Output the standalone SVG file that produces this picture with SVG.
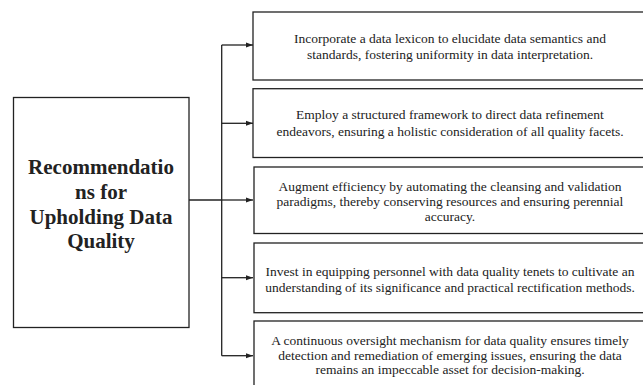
<svg xmlns="http://www.w3.org/2000/svg" width="643" height="385" viewBox="0 0 643 385">
<style>
.box{fill:#fff;stroke:#222;stroke-width:1.3}
.t{font-family:"Liberation Serif","Times New Roman",serif;font-size:13.5px;fill:#222;text-anchor:middle}
.h{font-family:"Liberation Serif","Times New Roman",serif;font-size:21px;font-weight:bold;fill:#222;text-anchor:middle}
.c{fill:none;stroke:#222;stroke-width:1.3}
</style>
<defs>
<marker id="a" viewBox="0 0 10 10" refX="10" refY="5" markerWidth="7.5" markerHeight="7.5" orient="auto" markerUnits="userSpaceOnUse">
<path d="M0,1.5 L10,5 L0,8.5 Z" fill="#222"/>
</marker>
</defs>
<rect width="643" height="385" fill="#fff"/>
<g id="connectors">
<path class="c" d="M189,200 H221.7"/>
<path class="c" d="M221.7,45 V355.7"/>
<path class="c" d="M221.7,45 H253" marker-end="url(#a)"/>
<path class="c" d="M221.7,123.3 H253" marker-end="url(#a)"/>
<path class="c" d="M221.7,200 H253" marker-end="url(#a)"/>
<path class="c" d="M221.7,277.7 H253" marker-end="url(#a)"/>
<path class="c" d="M221.7,355.7 H253" marker-end="url(#a)"/>
</g>
<g id="root">
<rect class="box" x="13.5" y="97.5" width="175.5" height="230"/>
<text class="h" x="101" y="174">Recommendatio</text>
<text class="h" x="101" y="199">ns for</text>
<text class="h" x="101" y="224">Upholding Data</text>
<text class="h" x="101" y="248">Quality</text>
</g>
<g id="n1">
<rect class="box" x="253" y="12" width="395" height="68"/>
<text class="t" x="450" y="42.7">Incorporate a data lexicon to elucidate data semantics and</text>
<text class="t" x="450" y="59.3">standards, fostering uniformity in data interpretation.</text>
</g>
<g id="n2">
<rect class="box" x="253" y="88.7" width="395" height="68.8"/>
<text class="t" x="450" y="119.3">Employ a structured framework to direct data refinement</text>
<text class="t" x="450" y="136">endeavors, ensuring a holistic consideration of all quality facets.</text>
</g>
<g id="n3">
<rect class="box" x="254" y="167" width="395" height="66.5"/>
<text class="t" x="450" y="190.5">Augment efficiency by automating the cleansing and validation</text>
<text class="t" x="450" y="206">paradigms, thereby conserving resources and ensuring perennial</text>
<text class="t" x="450" y="220.5">accuracy.</text>
</g>
<g id="n4">
<rect class="box" x="254" y="243" width="395" height="69.7"/>
<text class="t" x="450" y="275.7">Invest in equipping personnel with data quality tenets to cultivate an</text>
<text class="t" x="450" y="291.7">understanding of its significance and practical rectification methods.</text>
</g>
<g id="n5">
<rect class="box" x="254" y="321" width="395" height="80"/>
<text class="t" x="450" y="344.5">A continuous oversight mechanism for data quality ensures timely</text>
<text class="t" x="450" y="359.5">detection and remediation of emerging issues, ensuring the data</text>
<text class="t" x="450" y="374">remains an impeccable asset for decision-making.</text>
</g>
</svg>
